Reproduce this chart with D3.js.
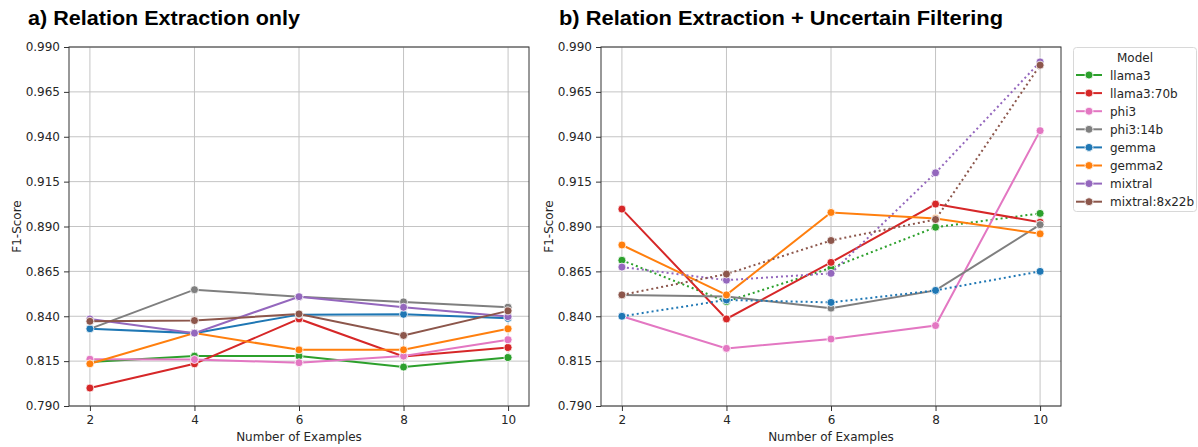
<html>
<head>
<script src="https://cdn.jsdelivr.net/npm/d3@7"></script>
<style>
body { margin: 0; background: #fff; }
text { font-family: "DejaVu Sans", sans-serif; }
</style>
</head>
<body>
<div id="chart"></div>
<script>
var numExamples = [2, 4, 6, 8, 10]
var models = ["llama3", "llama3:70b", "phi3", "phi3:14b", "gemma", "gemma2", "mixtral", "mixtral:8x22b"]
var modelColors = ["#2ca02c", "#d62728", "#e377c2", "#7f7f7f", "#1f77b4", "#ff7f0e", "#9467bd", "#8c564b"]
var yTicks = [0.790, 0.815, 0.840, 0.865, 0.890, 0.915, 0.940, 0.965, 0.990]

// a) relation extraction only, one row per model (same order as models)
var scoresOnly = [
	[0.8145, 0.8178, 0.8178, 0.8117, 0.8170],
	[0.8000, 0.8135, 0.8385, 0.8176, 0.8226],
	[0.8161, 0.8159, 0.8141, 0.8178, 0.8269],
	[0.8330, 0.8548, 0.8509, 0.8480, 0.8450],
	[0.8330, 0.8306, 0.8409, 0.8411, 0.8389],
	[0.8135, 0.8306, 0.8213, 0.8213, 0.8330],
	[0.8385, 0.8306, 0.8509, 0.8450, 0.8398],
	[0.8372, 0.8376, 0.8413, 0.8293, 0.8430]
]

// b) relation extraction + uncertain filtering
var scoresFiltered = [
	[0.8712, 0.8482, 0.8669, 0.8896, 0.8973],
	[0.8997, 0.8385, 0.8700, 0.9025, 0.8924],
	[0.8400, 0.8221, 0.8273, 0.8348, 0.9434],
	[0.8519, 0.8510, 0.8445, 0.8544, 0.8910],
	[0.8400, 0.8491, 0.8477, 0.8544, 0.8650],
	[0.8797, 0.8519, 0.8978, 0.8945, 0.8859],
	[0.8674, 0.8601, 0.8639, 0.9199, 0.9817],
	[0.8519, 0.8635, 0.8822, 0.8939, 0.9799]
]
var dottedFiltered = ["llama3", "gemma", "mixtral", "mixtral:8x22b"]

var svg = d3.select("#chart")
	.append("svg")
	.attr("width", 1198)
	.attr("height", 447)

var color = d3.scaleOrdinal().domain(models).range(modelColors)

var panels = [
	{ title: "a) Relation Extraction only", left: 69, right: 529, titleX: 28, titleW: 272, scores: scoresOnly, dotted: [] },
	{ title: "b) Relation Extraction + Uncertain Filtering", left: 601, right: 1061, titleX: 559, titleW: 444, scores: scoresFiltered, dotted: dottedFiltered }
]

var plotTop = 47, plotBottom = 406

function drawPanel(p){
	var x = d3.scaleLinear().domain([1.6, 10.4]).range([p.left, p.right])
	var y = d3.scaleLinear().domain([0.79, 0.99]).range([plotBottom, plotTop])

	var g = svg.append("g")

	// grid
	g.selectAll(".vgrid")
		.data(numExamples)
		.enter()
		.append("line")
		.attr("x1", function(d){ return x(d) })
		.attr("x2", function(d){ return x(d) })
		.attr("y1", plotTop)
		.attr("y2", plotBottom)
		.style("stroke", "#c4c4c4")
		.style("stroke-width", 1)
	g.selectAll(".hgrid")
		.data(yTicks)
		.enter()
		.append("line")
		.attr("x1", p.left)
		.attr("x2", p.right)
		.attr("y1", function(d){ return y(d) })
		.attr("y2", function(d){ return y(d) })
		.style("stroke", "#c4c4c4")
		.style("stroke-width", 1)

	// axes
	var xAxis = g.append("g")
		.attr("transform", "translate(0," + plotBottom + ")")
		.call(d3.axisBottom(x).tickValues(numExamples).tickSize(5).tickPadding(4))
	var yAxis = g.append("g")
		.attr("transform", "translate(" + p.left + ",0)")
		.call(d3.axisLeft(y).tickValues(yTicks).tickFormat(d3.format(".3f")).tickSize(5).tickPadding(4))
	;[xAxis, yAxis].forEach(function(a){
		a.select(".domain").remove()
		a.selectAll("text").style("font-size", "12px").style("fill", "#262626").style("font-family", "DejaVu Sans")
		a.selectAll("line").style("stroke", "#333")
	})

	g.append("rect")
		.attr("x", p.left)
		.attr("y", plotTop)
		.attr("width", p.right - p.left)
		.attr("height", plotBottom - plotTop)
		.style("fill", "none")
		.style("stroke", "#333")
		.style("stroke-width", 1)

	var line = d3.line()
		.x(function(d){ return x(d[0]) })
		.y(function(d){ return y(d[1]) })

	models.forEach(function(m, i){
		var pts = numExamples.map(function(n, j){ return [n, p.scores[i][j]] })
		var dotted = p.dotted.indexOf(m) >= 0
		g.append("path")
			.datum(pts)
			.attr("d", line)
			.style("fill", "none")
			.style("stroke", color(m))
			.style("stroke-width", 2)
			.style("stroke-dasharray", dotted ? "2,3" : null)
		g.selectAll(".pt" + i)
			.data(pts)
			.enter()
			.append("circle")
			.attr("cx", function(d){ return x(d[0]) })
			.attr("cy", function(d){ return y(d[1]) })
			.attr("r", 4)
			.style("fill", color(m))
			.style("stroke", "#fff")
			.style("stroke-width", 0.8)
	})

	svg.append("text")
		.attr("x", p.titleX)
		.attr("y", 25)
		.attr("textLength", p.titleW)
		.attr("lengthAdjust", "spacingAndGlyphs")
		.text(p.title)
		.style("font-family", "Liberation Sans, Arial, sans-serif")
		.style("font-weight", "bold")
		.style("font-size", "21px")
		.style("fill", "#000")

	svg.append("text")
		.attr("x", (p.left + p.right) / 2)
		.attr("y", 441)
		.attr("text-anchor", "middle")
		.text("Number of Examples")
		.style("font-size", "12px")
		.style("fill", "#262626")

	svg.append("text")
		.attr("transform", "translate(" + (p.left - 48) + "," + ((plotTop + plotBottom) / 2) + ") rotate(-90)")
		.attr("text-anchor", "middle")
		.text("F1-Score")
		.style("font-size", "12px")
		.style("fill", "#262626")
}

panels.forEach(drawPanel)

// legend
var legend = svg.append("g")
legend.append("rect")
	.attr("x", 1073.5)
	.attr("y", 47.5)
	.attr("width", 123)
	.attr("height", 164)
	.attr("rx", 3)
	.style("fill", "#fff")
	.style("stroke", "#d8d8d8")
legend.append("text")
	.attr("x", 1135)
	.attr("y", 62)
	.attr("text-anchor", "middle")
	.text("Model")
	.style("font-size", "12px")
	.style("fill", "#262626")
var items = legend.selectAll(".item")
	.data(models)
	.enter()
	.append("g")
	.attr("transform", function(d, i){ return "translate(0," + (75 + i * 18.1) + ")" })
items.append("line")
	.attr("x1", 1076)
	.attr("x2", 1102)
	.style("stroke", function(d){ return color(d) })
	.style("stroke-width", 2)
items.append("circle")
	.attr("cx", 1089)
	.attr("r", 4)
	.style("fill", function(d){ return color(d) })
	.style("stroke", "#fff")
	.style("stroke-width", 0.8)
items.append("text")
	.attr("x", 1110)
	.attr("y", 4.5)
	.text(function(d){ return d })
	.style("font-size", "12px")
	.style("fill", "#262626")
</script>
</body>
</html>
